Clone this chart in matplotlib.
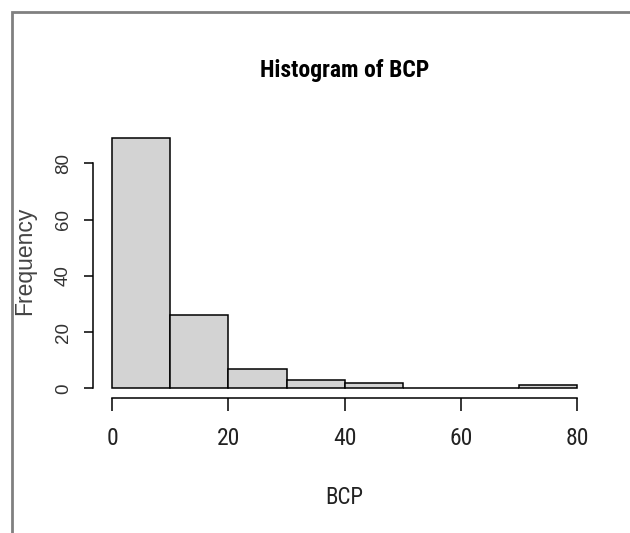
import matplotlib
matplotlib.use("Agg")
import matplotlib.pyplot as plt
from matplotlib.patches import Rectangle
from matplotlib import font_manager
import numpy as np

# Data
bin_edges = [0, 10, 20, 30, 40, 50, 60, 70, 80]
counts = [89, 26, 7, 3, 2, 0, 0, 1]
x_ticks = [0, 20, 40, 60, 80]
y_ticks = [0, 20, 40, 60, 80]
title = "Histogram of BCP"
x_label = "BCP"
y_label = "Frequency"

# look for a narrow/condensed sans face if one is installed
names = sorted({f.name for f in font_manager.fontManager.ttflist})
narrow_name = None
for cand in ["Liberation Sans Narrow", "Arial Narrow", "DejaVu Sans Condensed",
             "Roboto Condensed", "Open Sans Condensed"]:
    if cand in names:
        narrow_name = cand
        break
regular = ["Liberation Sans", "DejaVu Sans"]
narrow = ([narrow_name] if narrow_name else []) + regular
scale = 1.0 if narrow_name else 0.87

W, H = 630, 533
fig = plt.figure(figsize=(W / 100, H / 100), dpi=100)
fig.patch.set_facecolor("white")

left_px, right_px, top_px, bottom_px = 93.4, 596.0, 128.0, 398.3
ax = fig.add_axes([left_px / W, 1 - bottom_px / H,
                   (right_px - left_px) / W, (bottom_px - top_px) / H])

edges = np.array(bin_edges, dtype=float)
widths = np.diff(edges)
ax.bar(edges[:-1], counts, width=widths, align="edge",
       color="#D3D3D3", edgecolor="black", linewidth=1.1)

xr = edges[-1] - edges[0]
ax.set_xlim(edges[0] - 0.04 * xr, edges[-1] + 0.04 * xr)
yr = max(counts)
ax.set_ylim(-0.04 * yr, yr * 1.04)

for s in ["top", "right"]:
    ax.spines[s].set_visible(False)
ax.spines["left"].set_bounds(y_ticks[0], y_ticks[-1])
ax.spines["bottom"].set_bounds(x_ticks[0], x_ticks[-1])
ax.spines["left"].set_linewidth(1.1)
ax.spines["bottom"].set_linewidth(1.1)

ax.set_xticks(x_ticks)
ax.set_yticks(y_ticks)
ax.set_xticklabels([str(v) for v in x_ticks], family=narrow, fontsize=17 * scale,
                   color="#222222")
ax.set_yticklabels([str(v) for v in y_ticks], family=regular, fontsize=13.5,
                   rotation=90, va="center", color="#333333")
ax.tick_params(axis="x", length=9.4, width=1.1, pad=11)
ax.tick_params(axis="y", length=6.5, width=1.1, pad=9)

ax.text(0.5, (bottom_px - 70) / (bottom_px - top_px), title, transform=ax.transAxes,
        ha="center", va="center", fontsize=17 * scale, fontweight="bold", family=narrow)
ax.set_xlabel(x_label, family=narrow, fontsize=16.5 * scale, color="#222222")
ax.xaxis.set_label_coords(0.5, (bottom_px - 497) / (bottom_px - top_px))
ax.xaxis.label.set_va("center")
ax.set_ylabel(y_label, family=regular, fontsize=16.5, color="#444444")
ax.yaxis.set_label_coords((25 - left_px) / (right_px - left_px),
                          (bottom_px - 261) / (bottom_px - top_px))
ax.yaxis.label.set_va("center")

# gray frame around the picture (right/bottom edges off-canvas)
fig.add_artist(Rectangle((12 / W, -0.2), 1.3, 1 - 12 / H + 0.2,
                         transform=fig.transFigure, fill=False,
                         edgecolor="#808080", linewidth=2.0))

fig.savefig("out.png", dpi=100, facecolor="white")
